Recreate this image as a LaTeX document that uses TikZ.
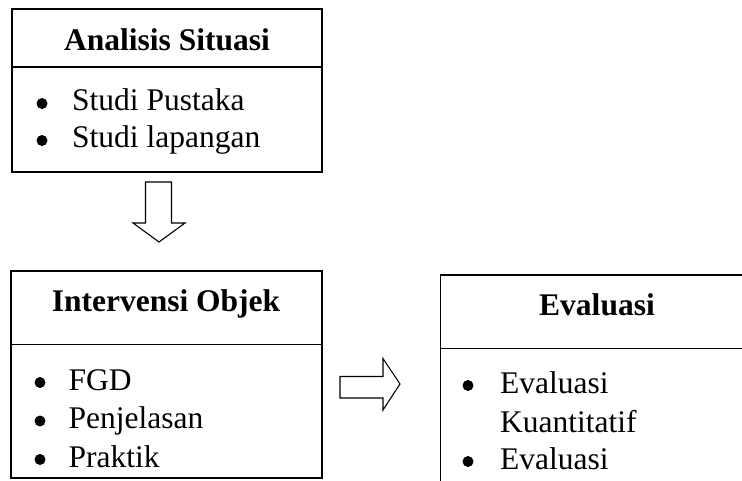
\documentclass[tikz,border=0pt]{standalone}
\usepackage{fontspec}
\setmainfont{Liberation Serif}
\begin{document}
\begin{tikzpicture}[x=1pt,y=-1pt,
  box/.style={draw, line width=1.4pt, inner sep=0pt, outer sep=0pt, anchor=north west},
  divider/.style={line width=1.8pt},
  ttl/.style={font=\fontsize{31.5}{37}\selectfont\bfseries, anchor=base, inner sep=0pt},
  itm/.style={font=\fontsize{31.5}{37}\selectfont, anchor=base west, inner sep=0pt},
  blt/.style={circle, fill, inner sep=0pt, minimum size=11pt},
  blockarrow/.style={draw, line width=1.1pt, line join=miter}]
\clip (0,0) rectangle (742,480);
% boxes
\node[box, minimum width=310pt, minimum height=163pt] (b1) at (12,9) {};
\node[box, minimum width=311pt, minimum height=207pt] (b2) at (11,271) {};
\node[box, minimum width=320pt, minimum height=240pt] (b3) at (440.5,275) {};
\draw[divider] (12,67) -- (322,67);
\draw[divider] (11,344.5) -- (322,344.5);
\draw[divider] (440.5,348.5) -- (760,348.5);
% titles
\node[ttl] (t1) at (167,50) {Analisis Situasi};
\node[ttl] (t2) at (166,311.5) {Intervensi Objek};
\node[ttl] (t3) at (597,315) {Evaluasi};
% items box 1
\node[blt] (p1) at (42,103.5) {};
\node[itm] (i1) at (72,110) {Studi Pustaka};
\node[blt] (p2) at (42,140.5) {};
\node[itm] (i2) at (72,147) {Studi lapangan};
% items box 2
\node[blt] (p3) at (40,382.5) {};
\node[itm] (i3) at (68.5,390) {FGD};
\node[blt] (p4) at (40,421) {};
\node[itm] (i4) at (68.5,428.5) {Penjelasan};
\node[blt] (p5) at (40,459.5) {};
\node[itm] (i5) at (68.5,467) {Praktik};
% items box 3
\node[blt] (p6) at (468,385.5) {};
\node[itm] (i6) at (500,393) {Evaluasi};
\node[itm] (i7) at (500,432) {Kuantitatif};
\node[blt] (p7) at (468,461.5) {};
\node[itm] (i8) at (500,469) {Evaluasi};
% block arrows
\coordinate (da) at (158.5,182);
\draw[blockarrow] (da) ++(-13,0) -- ++(26,0) -- ++(0,41) -- ++(13.5,0) -- (159,242) -- (133,223) -- (145.5,223) -- cycle;
\coordinate (ra) at (340,376.5);
\draw[blockarrow] (ra) -- (383,376.5) -- (383,358.5) -- (400,384) -- (383,410) -- (383,398) -- (340,398) -- cycle;
\end{tikzpicture}
\end{document}
